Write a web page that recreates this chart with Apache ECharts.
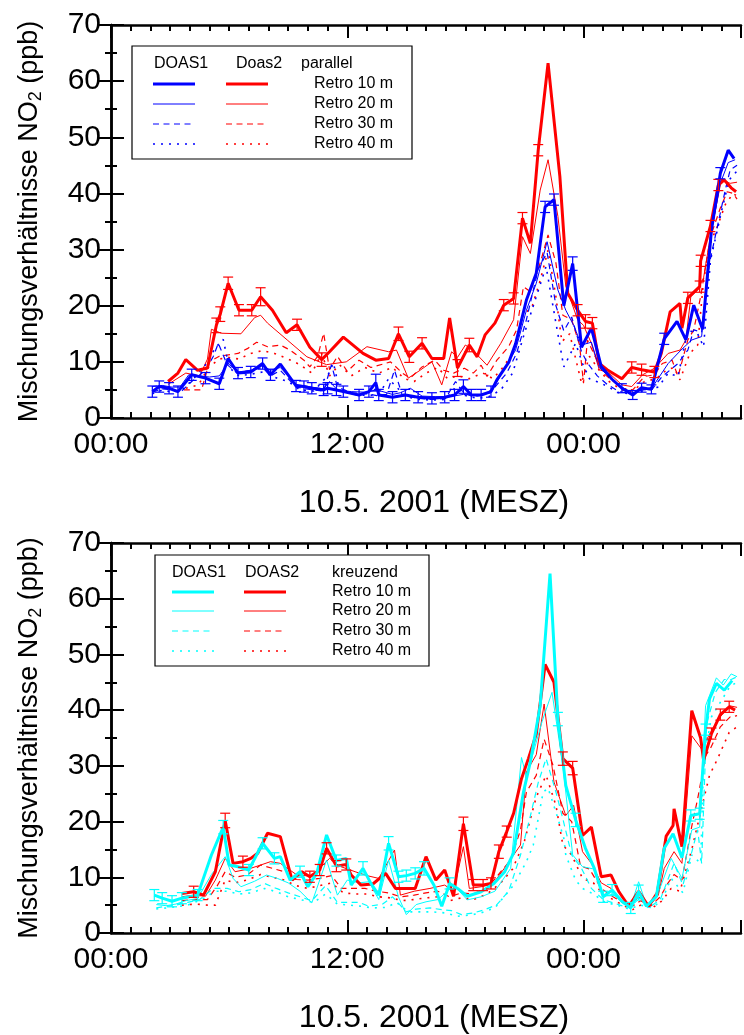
<!DOCTYPE html>
<html>
<head>
<meta charset="utf-8">
<script src="https://cdn.jsdelivr.net/npm/echarts@6/dist/echarts.min.js"></script>
<style>
html, body { margin: 0; padding: 0; background: #fff; }
#chart { width: 744px; height: 1035px; }
</style>
</head>
<body>
<div id="chart"></div>
<script>
// x axis: hours since 10.5.2001 00:00 (MESZ)
var tickHours = [0, 12, 24];
var tickText = ['00:00', '12:00', '00:00'];
var retroNames = ['Retro 10 m', 'Retro 20 m', 'Retro 30 m', 'Retro 40 m'];

// ---- oberes Bild: parallel ----  [stunde, ppb, fehler]
var top_d1_10 = [[2.1,4.7,1],[2.45,5.6,1],[2.95,5.3,1],[3.4,4.7,1],[4.1,7.7,1],[4.8,7.1,1],[5.5,6.1,1],[5.95,10.6,0],[6.45,8.0,1],[7.1,8.2,1],[7.7,9.7,1],[8.1,7.7,1],[8.6,9.6,0],[9.4,5.7,1],[9.8,5.6,1],[10.2,5.3,1],[10.8,5.0,1],[11.0,5.3,1],[11.45,5.0,1],[11.8,4.7,1],[12.6,4.1,1],[13.1,4.7,1],[13.45,6.3,1.5],[13.6,4.1,1],[14.3,3.7,1],[14.95,4.1,1],[15.6,3.7,1],[16.3,3.5,1],[16.95,3.7,1],[17.45,4.1,1],[17.9,5.6,1.2],[18.3,4.1,1],[18.8,4.1,1],[19.3,4.7,1],[19.6,6.8,0],[20.2,9.9,0],[20.55,13.2,0],[21.1,21.0,0],[21.6,25.8,0],[22.05,37.6,1],[22.5,38.9,1],[23.0,20.0,0],[23.45,27.5,1.2],[23.9,12.6,0],[24.4,16.0,0],[24.9,9.2,0],[25.45,6.9,0],[25.95,5.3,0.8],[26.5,4.1,0.8],[26.95,5.4,0.8],[27.45,5.1,0.8],[28.1,14.1,1],[28.75,17.2,0],[29.2,13.9,0],[29.6,20.1,0],[30.05,15.8,0],[30.5,33.5,0],[30.95,43.6,1],[31.35,47.7,0],[31.65,46.2,0]];
var top_d1_20 = [[2.1,5.6],[2.6,5.8],[3.1,5.5],[3.5,5.5],[3.95,7.7],[4.5,7.5],[5.0,7.3],[5.5,7.5],[5.95,9.7],[6.45,8.2],[7.1,8.5],[7.7,9.3],[8.1,8.5],[8.6,9.0],[9.4,6.0],[10.2,5.5],[10.8,5.2],[11.1,6.5],[11.5,5.0],[12.2,4.7],[12.9,4.6],[13.5,5.0],[14.3,4.2],[14.7,4.5],[15.2,5.3],[15.8,3.9],[16.5,3.8],[17.2,3.8],[17.9,4.2],[18.6,4.0],[19.3,4.5],[19.95,8.6],[20.55,12.1],[21.1,19.2],[21.6,24.0],[22.15,31.4],[22.7,22.8],[23.1,19.2],[23.5,16.5],[23.9,13.0],[24.4,13.5],[24.8,9.0],[25.4,7.0],[25.95,5.5],[26.5,4.5],[27.0,5.0],[27.5,5.5],[28.3,9.7],[28.95,12.1],[29.5,13.9],[30.0,14.5],[30.45,32.3],[30.95,41.8],[31.35,45.5],[31.7,46.0]];
var top_d1_30 = [[2.1,4.6],[2.6,5.2],[3.1,5.0],[3.5,4.5],[4.1,6.5],[4.8,8.5],[5.2,11.0],[5.45,13.3],[5.9,9.5],[6.4,8.0],[7.1,8.5],[7.7,9.0],[8.1,7.5],[8.6,8.5],[9.4,5.5],[10.2,5.0],[10.8,4.8],[11.2,9.5],[11.5,5.5],[12.2,4.5],[13.0,4.3],[13.5,4.0],[14.0,4.2],[14.4,8.5],[14.8,4.0],[15.6,3.5],[16.3,3.3],[17.0,3.5],[17.5,6.5],[17.9,4.5],[18.4,3.8],[19.0,4.2],[19.5,5.5],[20.1,8.0],[20.6,11.5],[21.1,17.5],[21.7,26.5],[22.15,29.5],[22.6,20.0],[23.0,15.5],[23.4,18.0],[23.9,11.8],[24.2,9.8],[24.7,7.5],[25.2,6.0],[25.8,4.7],[26.5,4.3],[27.0,5.0],[27.5,5.2],[28.0,7.4],[28.8,9.7],[29.3,12.1],[29.6,15.7],[30.0,15.3],[30.4,27.6],[30.8,34.1],[31.2,40.6],[31.45,44.2],[31.8,45.0]];
var top_d1_40 = [[2.1,4.3],[2.6,5.0],[3.1,4.6],[3.6,5.0],[4.2,7.0],[4.8,9.5],[5.3,12.5],[5.7,14.0],[6.0,9.0],[6.5,7.5],[7.1,7.8],[7.7,8.2],[8.5,7.0],[9.0,6.5],[9.6,5.0],[10.3,4.8],[11.0,7.5],[11.3,9.8],[11.6,5.0],[12.3,4.2],[13.1,4.0],[13.6,4.2],[14.1,7.0],[14.5,5.5],[15.0,3.8],[15.6,3.3],[16.3,3.2],[17.0,3.3],[17.5,5.5],[18.0,4.0],[18.6,3.5],[19.2,3.8],[19.8,5.0],[20.4,8.0],[21.0,15.1],[21.6,21.6],[22.1,27.0],[22.6,16.9],[23.0,9.1],[23.6,13.3],[23.95,9.7],[24.3,7.0],[25.0,6.0],[25.8,4.5],[26.5,4.3],[27.2,5.0],[27.8,5.5],[28.3,8.0],[28.8,7.4],[29.3,15.7],[29.8,15.0],[30.1,12.7],[30.45,28.1],[30.8,33.5],[31.0,36.7],[31.4,42.4],[31.8,44.0]];
var top_d2_10 = [[2.9,6.5,0],[3.4,8.0,0],[3.8,10.4,0],[4.4,8.5,0],[4.9,8.9,0],[5.35,16.5,1.3],[5.55,18.5,1.3],[5.95,24.0,1.1],[6.5,19.2,1],[7.15,19.2,1],[7.6,21.6,1.6],[8.2,19.2,0],[8.9,15.2,0],[9.45,16.6,1],[10.1,12.6,0],[10.7,10.4,1.2],[11.1,11.8,0],[11.8,14.4,0],[12.8,11.5,0],[13.45,10.3,0],[14.1,10.6,0],[14.6,15.0,1.2],[15.15,10.9,1],[15.8,13.3,1],[16.3,10.6,0],[16.9,10.6,0],[17.2,17.8,0],[17.6,8.9,1.5],[18.2,13.0,1.2],[18.6,10.9,0],[19.0,14.8,0],[19.5,16.9,0],[19.95,20.1,1],[20.45,21.3,1],[20.9,35.6,1],[21.3,31.1,0],[21.7,47.7,1],[22.2,63.2,0],[22.8,43.0,0],[23.2,22.2,0],[23.7,19.2,1],[24.1,17.2,1.2],[24.45,16.9,1],[24.8,9.7,0],[25.2,8.6,0],[25.95,7.0,0],[26.45,9.0,1],[26.95,8.6,1],[27.6,8.2,1],[27.95,11.5,0],[28.4,18.9,0],[28.9,20.4,0],[29.0,16.0,0],[29.3,21.4,1],[29.9,23.4,1],[29.95,28.0,1],[30.45,34.2,1],[30.85,41.5,1],[31.15,42.4,0],[31.5,41.0,0],[31.75,40.3,0]];
var top_d2_20 = [[2.9,6.0],[3.8,8.0],[4.5,7.5],[4.9,10.5],[5.1,15.8],[5.6,15.1],[6.6,15.0],[7.3,17.9],[7.6,18.3],[7.95,16.9],[8.95,13.9],[9.95,10.9],[10.95,9.5],[11.95,10.0],[13.0,12.7],[14.1,11.8],[14.5,12.1],[15.1,7.1],[15.7,8.5],[16.3,10.0],[16.8,5.9],[17.3,11.8],[17.6,10.8],[18.0,13.0],[18.4,12.0],[19.1,9.4],[19.8,13.3],[20.45,17.5],[20.9,32.3],[21.3,29.3],[21.8,40.6],[22.2,46.0],[22.7,35.9],[23.1,23.5],[23.7,17.5],[24.0,16.5],[24.4,13.3],[24.8,8.6],[25.3,8.0],[25.95,5.9],[26.45,5.6],[27.0,7.7],[27.6,8.85],[28.3,11.5],[28.9,12.1],[29.2,13.9],[29.45,21.6],[29.8,22.8],[30.1,25.0],[30.5,33.5],[31.0,42.4],[31.45,41.8],[31.8,42.0]];
var top_d2_30 = [[3.7,5.0],[4.6,5.0],[5.0,10.0],[5.5,11.0],[6.45,11.5],[6.95,12.4],[7.4,13.5],[7.95,12.7],[8.6,13.0],[9.1,12.1],[9.8,10.3],[10.1,9.1],[10.5,11.0],[10.8,15.1],[11.1,8.6],[11.5,11.0],[12.0,8.3],[12.6,10.3],[13.2,9.0],[14.2,10.0],[14.8,8.0],[15.2,7.1],[15.8,9.1],[16.45,10.3],[16.9,8.5],[17.4,8.0],[17.95,8.85],[18.4,8.0],[18.8,9.4],[19.1,7.4],[19.6,10.3],[20.2,12.7],[20.6,15.7],[20.95,23.4],[21.3,22.5],[21.8,27.6],[22.2,32.6],[22.6,27.6],[22.95,18.3],[23.4,17.5],[23.8,13.0],[24.0,6.2],[24.2,13.9],[24.6,10.9],[25.0,8.0],[25.95,5.3],[26.5,5.0],[27.1,7.4],[27.6,7.7],[28.0,9.7],[28.5,10.3],[28.8,7.4],[29.3,13.9],[29.6,15.7],[29.95,21.6],[30.45,32.3],[30.95,37.4],[31.3,40.3],[31.6,40.0],[31.8,39.0]];
var top_d2_40 = [[3.8,5.3],[4.45,5.9],[4.95,9.0],[5.5,10.5],[5.95,10.8],[6.5,10.5],[7.1,11.5],[7.7,12.0],[8.3,11.5],[9.0,10.5],[9.6,9.5],[10.2,8.0],[10.7,11.5],[11.1,7.5],[11.6,9.5],[12.2,7.5],[12.9,9.0],[13.6,8.0],[14.3,9.0],[14.9,7.0],[15.4,6.5],[16.0,8.0],[16.6,9.0],[17.1,7.0],[17.6,7.5],[18.2,7.0],[18.9,8.0],[19.4,7.0],[19.9,9.0],[20.4,11.5],[20.9,18.0],[21.4,20.0],[21.8,24.5],[22.2,29.9],[22.6,21.6],[22.9,13.6],[23.3,15.0],[23.9,6.2],[24.3,11.0],[24.8,8.5],[25.3,6.5],[25.95,5.0],[26.5,4.8],[27.1,6.5],[27.7,7.0],[28.2,8.5],[28.6,9.0],[28.9,6.8],[29.4,11.5],[29.8,13.0],[30.1,24.6],[30.5,31.7],[30.8,34.1],[31.2,38.0],[31.6,40.0],[31.8,39.5]];

// ---- unteres Bild: kreuzend ----
var bot_d1_10 = [[2.2,6.8,1],[2.6,6.25,1],[3.1,5.7,1],[3.6,6.25,1],[4.4,6.8,1],[5.1,14.0,0],[5.7,19.0,1.2],[6.0,12.2,0],[6.45,11.9,0],[7.0,11.3,1],[7.7,16.1,1],[8.3,13.4,1],[8.6,13.7,0],[9.1,9.5,0],[9.6,11.0,1],[10.0,8.3,0],[10.45,10.7,0],[10.95,17.6,0],[11.45,13.0,1],[11.95,13.4,0],[12.2,8.6,0],[12.8,11.6,1.2],[13.2,8.9,0],[13.6,6.8,0],[14.1,16.1,1.2],[14.6,10.1,1],[15.0,10.3,1],[15.45,10.7,1],[15.9,11.6,1.2],[16.4,8.6,0],[16.8,4.8,0],[17.2,8.9,1],[17.6,8.0,0],[18.1,6.6,0],[18.8,7.4,0],[19.45,8.9,0],[20.0,11.0,0],[20.45,14.4,0],[20.95,25.3,0],[21.3,30.7,0],[21.8,40.8,0],[22.3,64.5,0],[22.7,38.4,1.2],[23.1,26.5,0],[23.6,20.3,1.2],[24.1,15.2,0],[24.55,11.6,0],[25.0,6.5,1],[25.45,7.7,1],[25.95,5.7,0],[26.4,4.5,1],[26.8,7.4,1.2],[27.2,4.8,0],[27.7,6.55,0],[28.1,15.2,0],[28.55,17.8,0],[29.0,13.5,0],[29.45,21.1,1],[29.9,21.4,1],[30.2,36.5,1],[30.4,42.0,0],[30.75,44.8,0],[31.15,43.6,0],[31.55,45.3,0]];
var bot_d1_20 = [[2.3,5.1],[2.8,4.9],[3.3,5.2],[3.8,5.8],[4.4,6.2],[5.1,10.5],[5.8,13.7],[6.2,9.8],[6.6,8.3],[7.3,9.3],[7.9,10.4],[8.45,9.8],[9.0,9.0],[9.6,7.5],[10.2,5.4],[10.95,13.1],[11.5,6.8],[12.0,9.5],[12.6,9.0],[13.1,9.2],[13.6,6.0],[14.1,13.1],[14.6,6.5],[15.0,3.3],[15.5,5.1],[16.0,5.6],[16.6,6.0],[17.0,7.2],[17.4,8.6],[18.1,5.95],[18.8,6.5],[19.5,7.5],[20.3,11.6],[20.85,31.5],[21.1,28.0],[21.5,33.0],[21.9,38.0],[22.4,43.2],[22.95,30.1],[23.45,14.0],[23.95,11.9],[24.5,11.5],[25.0,6.5],[25.5,7.0],[26.0,5.3],[26.4,4.8],[26.8,9.2],[27.2,5.0],[27.7,6.3],[28.45,13.4],[29.0,9.8],[29.5,18.5],[29.9,19.0],[30.2,40.8],[30.75,45.8],[31.1,44.5],[31.5,46.5],[31.8,46.0]];
var bot_d1_30 = [[2.3,4.5],[2.8,4.8],[3.3,5.0],[3.9,5.5],[4.5,6.0],[5.2,8.0],[5.9,8.0],[6.5,7.4],[7.1,7.8],[7.8,8.9],[8.4,8.0],[9.0,7.2],[9.6,6.5],[10.2,5.8],[10.9,8.5],[11.5,5.5],[12.1,5.5],[12.6,5.5],[13.1,4.8],[13.8,5.2],[14.3,6.5],[15.0,3.8],[15.5,4.3],[16.2,4.5],[16.8,4.2],[17.3,4.0],[17.8,3.3],[18.4,3.6],[19.0,4.2],[19.6,5.1],[20.2,7.5],[20.8,14.0],[21.3,21.0],[21.7,27.0],[22.1,31.3],[22.6,25.3],[22.95,20.5],[23.4,14.0],[23.9,11.6],[24.4,8.0],[25.0,6.0],[25.6,5.3],[26.2,4.6],[26.8,6.0],[27.3,4.5],[27.9,6.0],[28.6,12.5],[29.05,8.6],[29.8,18.5],[30.0,12.5],[30.25,37.5],[30.7,43.2],[31.15,45.5],[31.5,45.5],[31.8,46.0]];
var bot_d1_40 = [[2.3,4.3],[2.8,4.5],[3.3,4.7],[3.9,5.0],[4.6,6.0],[5.3,7.5],[5.9,7.5],[6.5,7.0],[7.1,7.2],[7.8,8.0],[8.4,7.4],[9.0,6.5],[9.6,6.0],[10.3,5.5],[10.9,7.0],[11.5,5.2],[12.1,5.0],[12.7,4.8],[13.3,4.5],[14.0,4.6],[14.5,5.5],[15.1,3.8],[15.7,3.8],[16.3,3.8],[17.0,3.6],[17.6,3.0],[18.2,3.2],[18.8,3.6],[19.5,4.5],[20.45,8.6],[21.1,12.8],[21.45,15.8],[21.95,25.3],[22.2,26.0],[22.6,21.7],[23.0,17.0],[23.1,14.0],[23.6,9.5],[23.95,8.0],[24.5,7.0],[25.1,5.5],[25.7,5.0],[26.3,4.3],[26.9,5.0],[27.5,4.5],[28.0,6.0],[28.45,9.8],[29.05,7.2],[29.5,14.0],[29.95,12.5],[30.1,30.7],[30.5,38.8],[31.05,42.0],[31.45,44.3],[31.8,45.0]];
var bot_d2_10 = [[3.6,7.1,0],[4.2,7.4,1],[4.7,6.8,0],[5.3,11.0,0],[5.8,20.2,1.3],[6.2,12.5,0],[6.7,12.8,1],[7.1,13.4,0],[7.45,14.3,0],[7.95,17.9,0],[8.6,17.3,0],[9.2,9.5,0],[9.7,11.0,0],[10.1,10.1,1],[10.6,11.3,1],[10.95,15.2,1],[11.45,12.0,1],[11.95,12.3,1],[12.2,10.4,0],[12.7,8.6,0],[13.3,8.8,0],[13.95,10.7,0],[14.45,8.0,0],[15.45,8.0,0],[16.0,13.7,0],[16.5,9.5,0],[16.95,11.3,0],[17.4,6.6,0],[17.9,19.6,1.2],[18.4,8.6,1],[18.9,8.6,1],[19.3,8.9,1],[19.7,14.6,1.2],[20.1,18.2,1],[20.45,21.5,0],[20.85,27.7,0],[21.2,31.3,0],[21.6,35.7,0],[22.05,48.2,0],[22.5,45.0,0],[22.95,31.3,1.2],[23.45,29.6,1.2],[23.95,17.5,0],[24.4,19.0,0],[24.9,10.1,0],[25.4,10.4,0],[25.8,7.4,0],[26.3,4.8,0],[26.8,7.5,0],[27.3,4.8,0],[27.75,7.2,0],[28.2,17.4,0],[28.55,19.3,0],[28.6,22.3,0],[29.0,15.5,0],[29.5,39.9,0],[29.95,35.0,0],[30.1,31.0,0],[30.5,35.8,1],[30.95,39.2,1],[31.4,40.6,1],[31.7,40.0,0]];
var bot_d2_20 = [[3.6,6.5],[4.2,6.8],[4.8,6.6],[5.3,9.5],[5.8,13.4],[6.3,11.0],[7.0,11.5],[7.6,12.2],[8.1,12.8],[8.6,12.5],[9.45,10.4],[10.2,10.2],[11.1,13.4],[11.6,12.0],[12.4,11.0],[13.0,10.3],[13.6,9.8],[14.4,14.9],[14.7,6.8],[15.4,7.5],[16.2,8.0],[16.95,8.6],[17.4,7.5],[17.9,15.5],[18.2,8.0],[18.8,8.3],[19.4,8.8],[20.1,12.2],[20.8,15.8],[21.1,28.9],[21.6,32.0],[22.0,41.1],[22.5,27.1],[23.1,21.1],[23.5,22.9],[23.95,14.6],[24.4,12.5],[24.9,9.0],[25.4,8.0],[25.9,6.0],[26.3,4.5],[26.8,6.5],[27.3,4.6],[27.8,6.8],[28.1,11.6],[28.6,14.6],[29.0,12.5],[29.5,35.4],[30.0,33.0],[30.45,36.0],[30.95,38.8],[31.4,40.8],[31.8,40.5]];
var bot_d2_30 = [[3.6,5.8],[4.3,6.0],[4.9,6.0],[5.4,8.5],[5.8,11.0],[6.3,10.0],[6.9,10.4],[7.6,12.2],[8.2,11.6],[8.8,11.0],[9.4,9.6],[10.0,9.5],[10.6,9.8],[11.2,10.3],[11.7,8.0],[12.3,8.0],[12.9,8.0],[13.5,7.5],[14.1,7.2],[14.7,6.5],[15.4,6.8],[16.0,7.2],[16.6,7.5],[17.2,6.5],[17.8,7.2],[18.4,7.0],[19.1,8.0],[19.8,11.0],[20.3,13.1],[20.8,18.5],[21.1,25.3],[21.6,28.3],[22.0,34.8],[22.45,30.1],[22.95,21.5],[23.4,20.0],[23.85,12.0],[24.3,11.5],[24.9,8.0],[25.5,6.5],[26.0,5.5],[26.4,4.6],[26.9,5.8],[27.4,4.8],[27.9,6.5],[28.3,9.0],[28.6,10.5],[29.0,9.5],[29.5,19.2],[29.8,24.1],[30.2,31.8],[30.5,33.5],[30.95,37.0],[31.45,38.8],[31.8,39.0]];
var bot_d2_40 = [[3.6,5.0],[4.3,5.2],[4.9,5.0],[5.3,5.0],[5.8,9.5],[6.3,9.0],[6.9,9.5],[7.6,10.5],[8.2,10.0],[8.8,9.5],[9.4,8.5],[10.0,8.0],[10.6,8.5],[11.2,9.0],[11.8,7.2],[12.4,7.0],[13.0,7.0],[13.6,6.5],[14.2,6.3],[14.8,5.8],[15.4,6.0],[16.0,6.3],[16.6,6.5],[17.2,5.8],[17.8,6.3],[18.4,6.0],[19.1,7.0],[19.8,9.0],[20.4,11.5],[21.0,16.5],[21.6,24.4],[22.1,28.3],[22.6,22.9],[22.95,15.8],[23.4,14.0],[23.95,9.8],[24.5,9.0],[25.0,7.0],[25.6,5.8],[26.1,4.8],[26.5,4.2],[27.0,5.2],[27.5,4.5],[28.0,5.8],[28.45,8.0],[28.9,7.5],[29.5,15.0],[29.95,21.7],[30.4,28.3],[30.8,31.2],[31.4,36.0],[31.8,37.0]];

var FONT = 'Liberation Sans, Arial, sans-serif';
var BLUE = '#0000ff', RED = '#ff0000', CYAN = '#00ffff';

// Linienarten fuer Retro 10/20/30/40 m
var styles = [
    { width: 3, type: 'solid' },
    { width: 1, type: 'solid' },
    { width: 1.2, type: [6, 4.5] },
    { width: 1.6, type: [2, 6] }
];

var chart = echarts.init(document.getElementById('chart'));

function xAxes(grid, withName) {
    var majorTick = { show: true, inside: true, length: 13, lineStyle: { color: '#000', width: 2 } };
    var minorTick = { show: true, inside: true, length: 6, lineStyle: { color: '#000', width: 2 } };
    var base = { type: 'value', gridIndex: grid, min: 0, max: 32, splitLine: { show: false } };
    return [
        Object.assign({}, base, {
            position: 'bottom', interval: 12,
            axisLine: { show: true, lineStyle: { color: '#000', width: 2.5 } },
            axisTick: majorTick,
            axisLabel: {
                show: true, margin: 12, fontSize: 30, fontFamily: FONT, color: '#000',
                formatter: function (v) {
                    var i = tickHours.indexOf(v);
                    return i >= 0 ? tickText[i] : '';
                }
            },
            name: withName, nameLocation: 'middle', nameGap: 69,
            nameTextStyle: { fontSize: 32, fontFamily: FONT, color: '#000', padding: [0, 0, 0, 16] }
        }),
        Object.assign({}, base, {
            position: 'bottom', interval: 1,
            axisLine: { show: false }, axisTick: minorTick, axisLabel: { show: false }
        }),
        Object.assign({}, base, {
            position: 'top', interval: 12,
            axisLine: { show: true, lineStyle: { color: '#000', width: 2.5 } },
            axisTick: majorTick, axisLabel: { show: false }
        }),
        Object.assign({}, base, {
            position: 'top', interval: 1,
            axisLine: { show: false }, axisTick: minorTick, axisLabel: { show: false }
        })
    ];
}

function yAxes(grid) {
    var base = {
        type: 'value', gridIndex: grid, min: 0, max: 70, interval: 10,
        splitLine: { show: false },
        axisLine: { show: true, lineStyle: { color: '#000', width: 2.5 } },
        axisTick: { show: true, inside: true, length: 13, lineStyle: { color: '#000', width: 2 } },
        minorTick: { show: true, splitNumber: 2, length: 6, lineStyle: { color: '#000', width: 2 } }
    };
    return [
        Object.assign({}, base, {
            position: 'left',
            axisLabel: { show: true, margin: 10, fontSize: 30, fontFamily: FONT, color: '#000' },
            name: '{a|Mischungsverhältnisse NO}{b|2}{a| (ppb)}',
            nameLocation: 'middle', nameGap: 66,
            nameTextStyle: {
                fontSize: 27, fontFamily: FONT, color: '#000',
                rich: {
                    a: { fontSize: 27, fontFamily: FONT, color: '#000' },
                    b: { fontSize: 18, fontFamily: FONT, color: '#000', padding: [12, 0, 0, 0] }
                }
            }
        }),
        Object.assign({}, base, { position: 'right', axisLabel: { show: false } })
    ];
}

function line(data, color, k, xi, yi) {
    return {
        type: 'line', data: data, xAxisIndex: xi, yAxisIndex: yi,
        symbol: 'none', silent: true, z: k === 0 ? 4 : 3,
        lineStyle: { color: color, width: styles[k].width, type: styles[k].type }
    };
}

function errBars(data, color, xi, yi) {
    return {
        type: 'custom', xAxisIndex: xi, yAxisIndex: yi, silent: true, z: 5,
        data: data.filter(function (p) { return p[2] > 0; }),
        encode: { x: 0, y: 1 },
        renderItem: function (params, api) {
            var x = api.value(0), y = api.value(1), e = api.value(2);
            var hi = api.coord([x, y + e]), lo = api.coord([x, y - e]);
            var st = { stroke: color, lineWidth: 1.2 };
            return {
                type: 'group', children: [
                    { type: 'line', shape: { x1: hi[0], y1: hi[1], x2: lo[0], y2: lo[1] }, style: st },
                    { type: 'line', shape: { x1: hi[0] - 5, y1: hi[1], x2: hi[0] + 5, y2: hi[1] }, style: st },
                    { type: 'line', shape: { x1: lo[0] - 5, y1: lo[1], x2: lo[0] + 5, y2: lo[1] }, style: st }
                ]
            };
        }
    };
}

// Legende als Grafik
function legend(x, y, w, h, heads, headX, c1, c2, lx1, lx2, textX, rowY) {
    var els = [{ type: 'rect', shape: { x: x, y: y, width: w, height: h }, style: { fill: '#fff', stroke: '#000', lineWidth: 1.2 }, z: 10 }];
    heads.forEach(function (t, i) {
        els.push({ type: 'text', x: headX[i], y: y + 18, z: 11, style: { text: t, font: '16px ' + FONT, fill: '#000', verticalAlign: 'middle' } });
    });
    retroNames.forEach(function (t, i) {
        var yy = rowY[i];
        [[c1, lx1], [c2, lx2]].forEach(function (c) {
            els.push({ type: 'line', z: 11, shape: { x1: c[1], y1: yy, x2: c[1] + 42, y2: yy },
                style: { stroke: c[0], lineWidth: styles[i].width, lineDash: styles[i].type === 'solid' ? null : styles[i].type } });
        });
        els.push({ type: 'text', x: textX, y: yy, z: 11, style: { text: t, font: '16px ' + FONT, fill: '#000', verticalAlign: 'middle' } });
    });
    return els;
}

var option = {
    animation: false,
    backgroundColor: '#fff',
    grid: [
        { left: 111, top: 25, width: 640, height: 393 },
        { left: 111, top: 543, width: 640, height: 392 }
    ],
    xAxis: xAxes(0, '10.5. 2001 (MESZ)').concat(xAxes(1, '10.5. 2001 (MESZ)')),
    yAxis: yAxes(0).concat(yAxes(1)),
    graphic: legend(132, 46, 280, 113, ['DOAS1', 'Doas2', 'parallel'], [154, 236, 301], BLUE, RED, 153, 226, 314, [84, 104, 124, 144])
        .concat(legend(155, 555, 274, 111, ['DOAS1', 'DOAS2', 'kreuzend'], [172, 245, 332], CYAN, RED, 172, 244, 332, [592, 611, 631, 651])),
    series: [
        line(top_d2_40, RED, 3, 0, 0), line(top_d2_30, RED, 2, 0, 0), line(top_d2_20, RED, 1, 0, 0), line(top_d2_10, RED, 0, 0, 0),
        errBars(top_d2_10, RED, 0, 0),
        line(top_d1_40, BLUE, 3, 0, 0), line(top_d1_30, BLUE, 2, 0, 0), line(top_d1_20, BLUE, 1, 0, 0), line(top_d1_10, BLUE, 0, 0, 0),
        errBars(top_d1_10, BLUE, 0, 0),

        line(bot_d2_40, RED, 3, 4, 2), line(bot_d2_30, RED, 2, 4, 2), line(bot_d2_20, RED, 1, 4, 2), line(bot_d2_10, RED, 0, 4, 2),
        errBars(bot_d2_10, RED, 4, 2),
        line(bot_d1_40, CYAN, 3, 4, 2), line(bot_d1_30, CYAN, 2, 4, 2), line(bot_d1_20, CYAN, 1, 4, 2), line(bot_d1_10, CYAN, 0, 4, 2),
        errBars(bot_d1_10, CYAN, 4, 2)
    ]
};

chart.setOption(option);
</script>
</body>
</html>
